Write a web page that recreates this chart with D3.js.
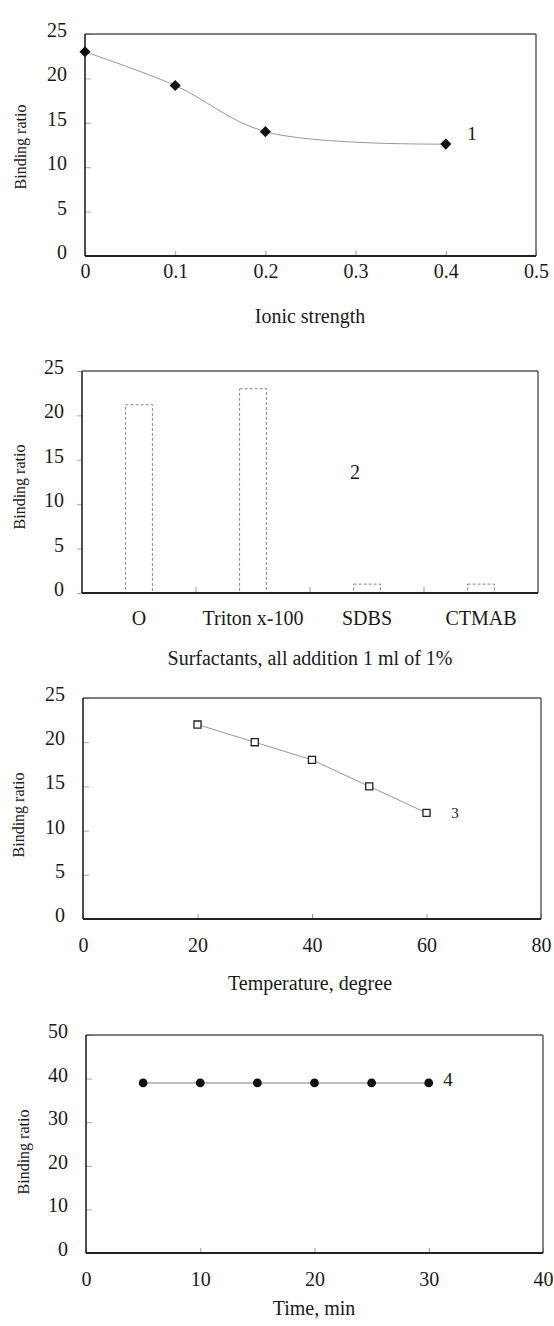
<!DOCTYPE html>
<html>
<head>
<meta charset="utf-8">
<script src="https://cdn.jsdelivr.net/npm/d3@7"></script>
<style>
  body { margin: 0; background: #fff; }
  svg { display: block; font-family: "Liberation Serif", "Times New Roman", serif; }
  .tick text { font-size: 20px; fill: #1a1a1a; }
</style>
</head>
<body>
<svg id="chart" width="554" height="1326"></svg>
<script>
// panel 1: ionic strength
const ionicX = [0, 0.1, 0.2, 0.4];
const ionicY = [23, 19.2, 14, 12.6];
const ionicTicks = [0, 0.1, 0.2, 0.3, 0.4, 0.5];

// panel 2: surfactants
const surfactants = ["O", "Triton x-100", "SDBS", "CTMAB"];
const surfactantY = [21.2, 23, 1, 1];

// panel 3: temperature
const tempX = [20, 30, 40, 50, 60];
const tempY = [22, 20, 18, 15, 12];
const tempTicks = [0, 20, 40, 60, 80];

// panel 4: time
const timeX = [5, 10, 15, 20, 25, 30];
const timeY = [39, 39, 39, 39, 39, 39];
const timeTicks = [0, 10, 20, 30, 40];

const ratioTicks25 = [0, 5, 10, 15, 20, 25];
const ratioTicks50 = [0, 10, 20, 30, 40, 50];

const serif = "Liberation Serif, Times New Roman, serif";
const svg = d3.select("#chart");

function frame(box) {
    const g = svg.append("g");
    // top/right lighter, left/bottom darker like the scan
    g.append("line").attr("x1", box.x0).attr("x2", box.x1).attr("y1", box.y0).attr("y2", box.y0)
        .attr("stroke", "#555").attr("stroke-width", 1.4);
    g.append("line").attr("x1", box.x1).attr("x2", box.x1).attr("y1", box.y0).attr("y2", box.y1)
        .attr("stroke", "#555").attr("stroke-width", 1.4);
    g.append("line").attr("x1", box.x0).attr("x2", box.x0).attr("y1", box.y0).attr("y2", box.y1)
        .attr("stroke", "#222").attr("stroke-width", 1.6);
    g.append("line").attr("x1", box.x0).attr("x2", box.x1).attr("y1", box.y1).attr("y2", box.y1)
        .attr("stroke", "#222").attr("stroke-width", 1.8);
    return g;
}

function yAxis(box, y, ticks, outside) {
    const ax = d3.axisLeft(y).tickValues(ticks).tickFormat(d3.format("d"))
        .tickSizeOuter(0)
        .tickSizeInner(outside ? 5 : -6)
        .tickPadding(outside ? 13 : 18);
    const g = svg.append("g").attr("transform", `translate(${box.x0},0)`).call(ax)
        .attr("font-family", serif);
    g.select(".domain").remove();
    g.selectAll(".tick line").attr("stroke", "#aaa");
    g.selectAll(".tick text").attr("y", -4);
    return g;
}

function xAxis(box, x, ticks, pad, fmt) {
    const ax = d3.axisBottom(x).tickValues(ticks).tickFormat(fmt)
        .tickSizeOuter(0).tickSizeInner(-5).tickPadding(pad);
    const g = svg.append("g").attr("transform", `translate(0,${box.y1})`).call(ax)
        .attr("font-family", serif);
    g.select(".domain").remove();
    g.selectAll(".tick line").attr("stroke", "#999");
    return g;
}

function yLabel(cx, cy) {
    svg.append("text")
        .attr("transform", `translate(${cx},${cy}) rotate(-90)`)
        .attr("text-anchor", "middle").attr("dy", "0.35em")
        .attr("font-size", 16).attr("fill", "#1a1a1a")
        .text("Binding ratio");
}

function title(cx, cy, txt) {
    svg.append("text")
        .attr("x", cx).attr("y", cy).attr("dy", "0.35em")
        .attr("text-anchor", "middle")
        .attr("font-size", 20).attr("fill", "#1a1a1a")
        .text(txt);
}

function tag(x, y, txt, size) {
    svg.append("text").attr("x", x).attr("y", y).attr("dy", "0.35em")
        .attr("text-anchor", "middle").attr("font-size", size).attr("fill", "#1a1a1a")
        .text(txt);
}

// ---------- panel 1 ----------
{
    const box = { x0: 85, x1: 536, y0: 34, y1: 256 };
    const x = d3.scaleLinear().domain([0, 0.5]).range([box.x0, box.x1]);
    const y = d3.scaleLinear().domain([0, 25]).range([box.y1, box.y0]);
    yAxis(box, y, ratioTicks25, false);
    xAxis(box, x, ionicTicks, 8, d => d === 0 ? "0" : d3.format(".1f")(d));
    frame(box);

    const pts = ionicX.map((v, i) => [x(v), y(ionicY[i])]);
    svg.append("path")
        .attr("d", d3.line().curve(d3.curveCatmullRom.alpha(0.5))(pts))
        .attr("fill", "none").attr("stroke", "#999").attr("stroke-width", 1);

    svg.append("g").selectAll("path").data(pts).join("path")
        .attr("transform", d => `translate(${d[0]},${d[1]}) rotate(45)`)
        .attr("d", d3.symbol(d3.symbolSquare, 62))
        .attr("fill", "#111");

    tag(472, 133, "1", 19);
    yLabel(20, 147);
    title(310, 316, "Ionic strength");
}

// ---------- panel 2 ----------
{
    const box = { x0: 82, x1: 538, y0: 371, y1: 593 };
    const x = d3.scaleBand().domain(surfactants).range([box.x0, box.x1]);
    const y = d3.scaleLinear().domain([0, 25]).range([box.y1, box.y0]);
    yAxis(box, y, ratioTicks25, true);

    // category labels
    const ax = d3.axisBottom(x).tickSize(0).tickPadding(18);
    const gx = svg.append("g").attr("transform", `translate(0,${box.y1})`).call(ax)
        .attr("font-family", serif);
    gx.select(".domain").remove();

    // separators between categories
    svg.append("g").selectAll("line").data(surfactants.slice(1)).join("line")
        .attr("x1", d => x(d)).attr("x2", d => x(d))
        .attr("y1", box.y1).attr("y2", box.y1 - 6)
        .attr("stroke", "#999");

    const bw = x.bandwidth() * 0.235;
    svg.append("g").selectAll("rect").data(surfactants).join("rect")
        .attr("x", d => x(d) + x.bandwidth() / 2 - bw / 2)
        .attr("width", bw)
        .attr("y", (d, i) => y(surfactantY[i]))
        .attr("height", (d, i) => box.y1 - y(surfactantY[i]))
        .attr("fill", "none").attr("stroke", "#888")
        .attr("stroke-width", 1).attr("stroke-dasharray", "3,2");

    frame(box);
    tag(355, 472, "2", 20);
    yLabel(19, 487);
    title(310, 658, "Surfactants, all addition 1 ml of 1%");
}

// ---------- panel 3 ----------
{
    const box = { x0: 83, x1: 541, y0: 698, y1: 919 };
    const x = d3.scaleLinear().domain([0, 80]).range([box.x0, box.x1]);
    const y = d3.scaleLinear().domain([0, 25]).range([box.y1, box.y0]);
    yAxis(box, y, ratioTicks25, false);
    xAxis(box, x, tempTicks, 19, d3.format("d"));
    frame(box);

    const pts = tempX.map((v, i) => [x(v), y(tempY[i])]);
    svg.append("path")
        .attr("d", d3.line()(pts))
        .attr("fill", "none").attr("stroke", "#999").attr("stroke-width", 1);

    svg.append("g").selectAll("path").data(pts).join("path")
        .attr("transform", d => `translate(${d[0]},${d[1]})`)
        .attr("d", d3.symbol(d3.symbolSquare, 50))
        .attr("fill", "#fff").attr("stroke", "#222").attr("stroke-width", 1.3);

    tag(455, 813, "3", 15);
    yLabel(18, 815);
    title(310, 983, "Temperature, degree");
}

// ---------- panel 4 ----------
{
    const box = { x0: 86, x1: 543, y0: 1035, y1: 1253 };
    const x = d3.scaleLinear().domain([0, 40]).range([box.x0, box.x1]);
    const y = d3.scaleLinear().domain([0, 50]).range([box.y1, box.y0]);
    yAxis(box, y, ratioTicks50, false);
    xAxis(box, x, timeTicks, 19, d3.format("d"));
    frame(box);

    const pts = timeX.map((v, i) => [x(v), y(timeY[i])]);
    svg.append("path")
        .attr("d", d3.line()(pts))
        .attr("fill", "none").attr("stroke", "#aaa").attr("stroke-width", 1.5);

    svg.append("g").selectAll("circle").data(pts).join("circle")
        .attr("cx", d => d[0]).attr("cy", d => d[1]).attr("r", 4.4)
        .attr("fill", "#111");

    tag(448, 1079, "4", 19);
    yLabel(23, 1152);
    title(314, 1308, "Time, min");
}
</script>
</body>
</html>
